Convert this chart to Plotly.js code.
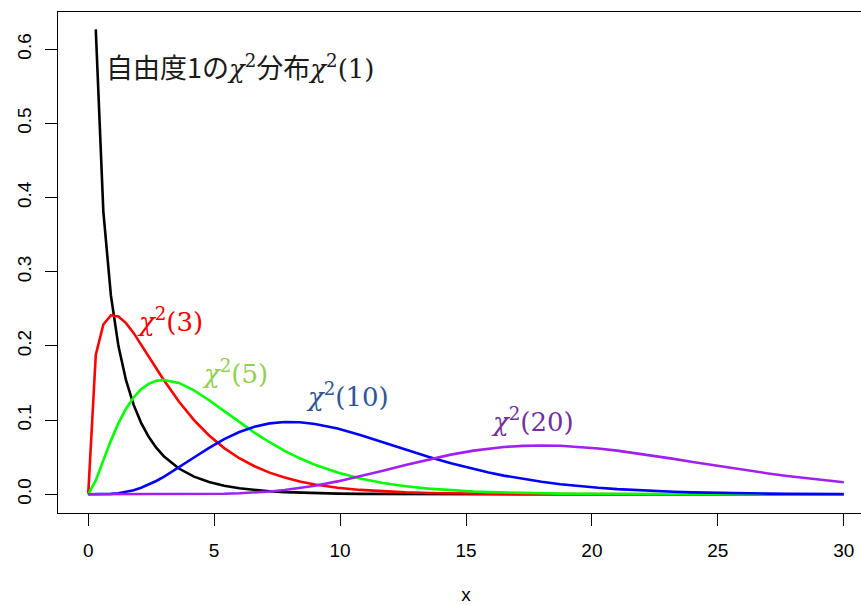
<!DOCTYPE html>
<html>
<head>
<meta charset="utf-8">
<script src="https://cdn.plot.ly/plotly-3.0.1.min.js"></script>
<style>
html, body { margin: 0; padding: 0; overflow: hidden; background: #fff; }
#chart { width: 874px; height: 605px; }
</style>
</head>
<body>
<div id="chart"></div>
<script>
// x positions
const xVals = [0, 0.3, 0.6, 0.9, 1.2, 1.5, 1.8, 2.1, 2.4, 2.7, 3.0,
  3.6, 4.2, 4.8, 5.4, 6.0, 6.6, 7.2, 7.8, 8.4, 9.0,
  9.9, 10.8, 11.7, 12.6, 13.5, 14.4,
  15.3, 15.9, 16.5, 17.25, 18.0, 18.75, 19.5, 20.25, 21.0, 21.75, 22.5,
  23.25, 24.0, 24.75, 25.5, 26.25, 27.0, 27.75, 28.5, 29.25, 30.0];

// density values of each curve
const df1 = [null, 0.62691, 0.38154, 0.26814, 0.19987, 0.15387, 0.12090, 0.09634, 0.07756, 0.06294, 0.05139,
  0.03476, 0.02384, 0.01652, 0.01154, 0.00811, 0.00573, 0.00406, 0.00289, 0.00206, 0.00148,
  0.00090, 0.00055, 0.00034, 0.00021, 0.00013, 0.00008,
  0.00005, 0.00004, 0.00003, 0.00002, 0.00001, 0.00001, 0.00001, 0, 0, 0, 0,
  0, 0, 0, 0, 0, 0, 0, 0, 0, 0];

const df3 = [0, 0.18807, 0.22893, 0.24132, 0.23984, 0.23080, 0.21761, 0.20231, 0.18615, 0.16994, 0.15418,
  0.12512, 0.10012, 0.07929, 0.06230, 0.04865, 0.03780, 0.02925, 0.02256, 0.01734, 0.01330,
  0.00889, 0.00592, 0.00393, 0.00260, 0.00172, 0.00113,
  0.00074, 0.00056, 0.00042, 0.00030, 0.00021, 0.00015, 0.00010, 0.00007, 0.00005, 0.00004, 0.00002,
  0.00002, 0.00001, 0.00001, 0.00001, 0, 0, 0, 0, 0, 0];

const df5 = [0, 0.01881, 0.04579, 0.07240, 0.09594, 0.11540, 0.13057, 0.14162, 0.14892, 0.15295, 0.15418,
  0.15015, 0.14017, 0.12686, 0.11215, 0.09730, 0.08316, 0.07020, 0.05864, 0.04854, 0.03989,
  0.02934, 0.02132, 0.01533, 0.01091, 0.00772, 0.00543,
  0.00379, 0.00297, 0.00233, 0.00171, 0.00125, 0.00092, 0.00067, 0.00049, 0.00035, 0.00026, 0.00019,
  0.00013, 0.00010, 0.00007, 0.00005, 0.00004, 0.00003, 0.00002, 0.00001, 0.00001, 0.00001];

const df10 = [0, 0.00001, 0.00013, 0.00055, 0.00148, 0.00311, 0.00556, 0.00886, 0.01301, 0.01794, 0.02353,
  0.03615, 0.04962, 0.06270, 0.07441, 0.08402, 0.09113, 0.09561, 0.09756, 0.09721, 0.09490,
  0.08860, 0.08001, 0.07027, 0.06027, 0.05064, 0.04180,
  0.03397, 0.02935, 0.02521, 0.02070, 0.01687, 0.01365, 0.01097, 0.00877, 0.00697, 0.00552, 0.00434,
  0.00340, 0.00265, 0.00206, 0.00160, 0.00123, 0.00095, 0.00073, 0.00056, 0.00042, 0.00032];

const df20 = [0, 0, 0, 0, 0, 0, 0, 0, 0.000002, 0.000005, 0.000012,
  0.00005, 0.00013, 0.00033, 0.00071, 0.00135, 0.00236, 0.00382, 0.00582, 0.00840, 0.01158,
  0.01741, 0.02430, 0.03184, 0.03956, 0.04693, 0.05349,
  0.05886, 0.06164, 0.06373, 0.06535, 0.06588, 0.06538, 0.06396, 0.06174, 0.05886, 0.05548, 0.05173,
  0.04776, 0.04368, 0.03960, 0.03561, 0.03177, 0.02813, 0.02474, 0.02162, 0.01877, 0.01620];

const seriesData = [df1, df3, df5, df10, df20];
const lineColors = ['#000000', '#FF0000', '#00FF00', '#0000FF', '#A020F0'];

const xTicks = [0, 5, 10, 15, 20, 25, 30];
const yTicks = [0.0, 0.1, 0.2, 0.3, 0.4, 0.5, 0.6];
const yTickText = ['0.0', '0.1', '0.2', '0.3', '0.4', '0.5', '0.6'];

const CJK = "font-family:'Noto Sans CJK JP';font-size:27px";
const SER = "font-family:'DejaVu Serif'";
const chi = '<span style="' + SER + '"><i>χ</i><sup>2</sup></span>';
const ser = s => '<span style="' + SER + '">' + s + '</span>';
const cjk = s => '<span style="' + CJK + '">' + s + '</span>';

const labelTexts = [
  cjk('自由度1の') + chi + cjk('分布') + chi + ser('(1)'),
  chi + ser('(3)'),
  chi + ser('(5)'),
  chi + ser('(10)'),
  chi + ser('(20)')
];
const labelX = [0.62, 1.85, 4.44, 8.57, 15.92];
const labelY = [0.577, 0.2345, 0.1655, 0.1345, 0.1008];
const labelColors = ['#1a1a1a', '#F00000', '#92D050', '#2F5597', '#7030A0'];

const traces = seriesData.map((ys, i) => ({
  x: xVals, y: ys, type: 'scatter', mode: 'lines',
  line: { color: lineColors[i], width: 2.6 },
  hoverinfo: 'skip', showlegend: false
}));

const annotations = labelTexts.map((t, i) => ({
  x: labelX[i], y: labelY[i], xref: 'x', yref: 'y',
  text: t, showarrow: false, xanchor: 'left', yanchor: 'middle',
  font: { size: 26, color: labelColors[i], family: "'DejaVu Serif', 'Noto Sans CJK JP'" }
}));

const axFont = { family: "'Liberation Sans', Arial, sans-serif", size: 19, color: '#000' };

const layout = {
  width: 874, height: 605,
  margin: { l: 58, r: 0, t: 12, b: 92 },
  paper_bgcolor: '#fff', plot_bgcolor: '#fff',
  showlegend: false,
  xaxis: {
    range: [-1.2, 31.2], tickvals: xTicks, ticktext: xTicks.map(String),
    ticks: 'outside', ticklen: 12, tickwidth: 1, tickcolor: '#000',
    showline: true, linecolor: '#000', linewidth: 1, mirror: true,
    showgrid: false, zeroline: false, tickfont: axFont,
    ticklabelstandoff: 8,
    title: { text: 'x', font: axFont, standoff: 30 }
  },
  yaxis: {
    range: [-0.0252, 0.6503], tickvals: yTicks, ticktext: yTickText,
    ticks: 'outside', ticklen: 12, tickwidth: 1, tickcolor: '#000',
    showline: true, linecolor: '#000', linewidth: 1, mirror: true,
    showgrid: false, zeroline: false, tickfont: axFont, tickangle: -90,
    ticklabelstandoff: 6
  },
  annotations: annotations
};

Plotly.newPlot('chart', traces, layout, { displayModeBar: false, staticPlot: true });
</script>
</body>
</html>
